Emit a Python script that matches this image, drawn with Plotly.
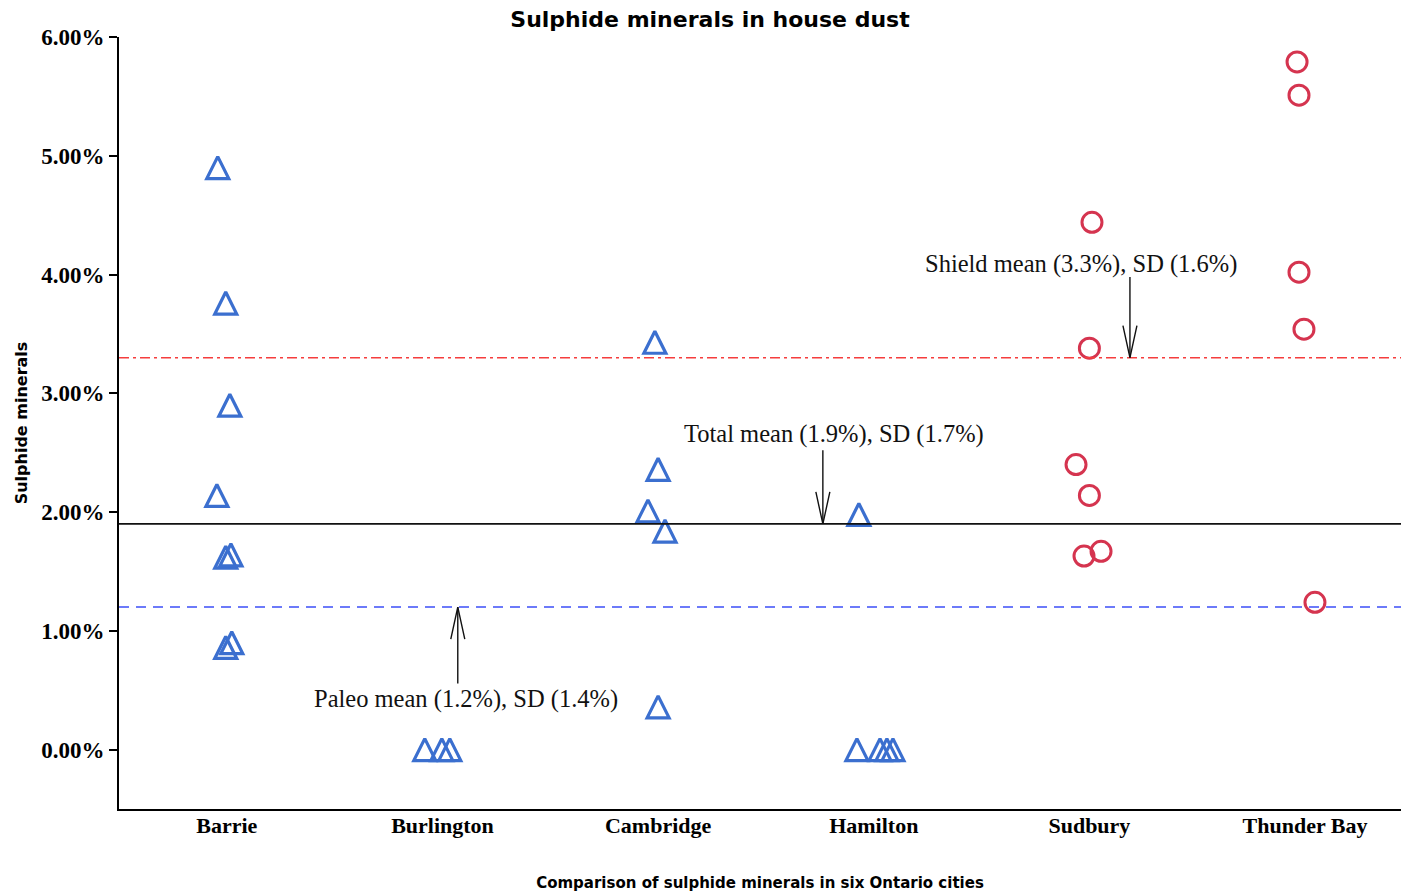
import plotly.graph_objects as go

# Six Ontario cities on the category axis
cities = ["Barrie", "Burlington", "Cambridge", "Hamilton", "Sudbury", "Thunder Bay"]

# Sulphide mineral content (%) of house dust samples, by city
barrie = [4.90, 3.76, 2.90, 2.14, 1.62, 1.64, 0.86, 0.90]
burlington = [0.0, 0.0, 0.0]
cambridge = [3.43, 2.36, 2.01, 1.84, 0.36]
hamilton = [1.98, 0.0, 0.0, 0.0, 0.0]
sudbury = [4.44, 3.38, 2.40, 2.14, 1.63, 1.67]
thunder_bay = [5.79, 5.51, 4.02, 3.54, 1.24]

# Horizontal jitter applied to each sample within its city column
barrie_jit = [-0.042, -0.005, 0.014, -0.046, -0.005, 0.019, -0.005, 0.023]
burlington_jit = [-0.082, -0.003, 0.034]
cambridge_jit = [-0.015, 0.0, -0.047, 0.032, 0.0]
hamilton_jit = [-0.069, -0.078, 0.029, 0.061, 0.089]
sudbury_jit = [0.012, 0.0, -0.062, 0.0, -0.025, 0.054]
thunder_bay_jit = [-0.037, -0.028, -0.028, -0.005, 0.046]

# Group summary statistics (%)
paleo_mean, paleo_sd = 1.2, 1.4
total_mean, total_sd = 1.9, 1.7
shield_mean, shield_sd = 3.3, 1.6

y_ticks = [0, 1, 2, 3, 4, 5, 6]
y_tick_text = [f"{v:.2f}%" for v in y_ticks]

BLUE = "#3b6fcf"
RED = "#d5344f"
SERIF = "Liberation Serif"
SANS = "DejaVu Sans"
TRI = 22  # triangle marker size (px)

fig = go.Figure()

paleo_groups = [(0, barrie, barrie_jit), (1, burlington, burlington_jit),
                (2, cambridge, cambridge_jit), (3, hamilton, hamilton_jit)]
shield_groups = [(4, sudbury, sudbury_jit), (5, thunder_bay, thunder_bay_jit)]

px_, py_ = [], []
for i, vals, jit in paleo_groups:
    px_ += [i + j for j in jit]
    py_ += vals
# equilateral-looking open triangle: an arrow glyph flipped upright and
# re-centred on the point with the marker standoff
fig.add_trace(go.Scatter(
    x=px_, y=py_, mode="markers", name="Paleozoic",
    marker=dict(symbol="arrow-down-open", size=TRI, angle=180, standoff=TRI / 2,
                color=BLUE, line=dict(width=3.2, color=BLUE)),
    showlegend=False, cliponaxis=False))

sx_, sy_ = [], []
for i, vals, jit in shield_groups:
    sx_ += [i + j for j in jit]
    sy_ += vals
fig.add_trace(go.Scatter(
    x=sx_, y=sy_, mode="markers", name="Shield",
    marker=dict(symbol="circle-open", size=20, color=RED,
                line=dict(width=3, color=RED)),
    showlegend=False, cliponaxis=False))

# Reference lines for the group means
fig.add_hline(y=shield_mean, line=dict(color="#f53d3d", width=1.6, dash="10px,4px,3px,4px"))
fig.add_hline(y=total_mean, line=dict(color="#111111", width=1.7))
fig.add_hline(y=paleo_mean, line=dict(color="#3d4ff7", width=1.5, dash="10px,7px"))

# Callouts: (label, text x, text y, arrow x, arrow tail y, arrow head y)
callouts = [
    (f"Shield mean ({shield_mean}%), SD ({shield_sd}%)", 3.963, 4.09, 4.188, 3.98, shield_mean),
    (f"Total mean ({total_mean}%), SD ({total_sd}%)", 2.815, 2.66, 2.764, 2.52, total_mean),
    (f"Paleo mean ({paleo_mean}%), SD ({paleo_sd}%)", 1.111, 0.43, 1.071, 0.556, paleo_mean),
]
for text, tx, ty, ax_, tail, head in callouts:
    fig.add_annotation(x=tx, y=ty, text=text, showarrow=False,
                       font=dict(family=SERIF, size=24.5, color="#111111"))
    fig.add_shape(type="line", x0=ax_, x1=ax_, y0=tail, y1=head,
                  line=dict(color="#111111", width=1.4))
    # open V arrowhead, sized in pixels at the arrow tip
    sign = 1 if tail > head else -1
    fig.add_shape(type="path", xsizemode="pixel", ysizemode="pixel",
                  xanchor=ax_, yanchor=head,
                  path=f"M-7,{32 * sign} L0,0 L7,{32 * sign}",
                  line=dict(color="#111111", width=1.4))

fig.update_layout(
    width=1401, height=895,
    margin=dict(l=119, r=0, t=37, b=86),
    plot_bgcolor="white", paper_bgcolor="white",
    title=dict(text="<b>Sulphide minerals in house dust</b>",
               x=710 / 1401, xref="container", xanchor="center",
               y=1 - 19 / 895, yref="container", yanchor="middle",
               font=dict(family=SANS, size=22, color="#000000")),
    showlegend=False,
)

fig.update_xaxes(
    range=[-0.5, 5.445], tickvals=list(range(len(cities))), ticktext=cities,
    showgrid=False, zeroline=False, showline=True, linecolor="black", linewidth=2,
    ticks="", ticklabelstandoff=-4,
    tickfont=dict(family=SERIF, size=22, color="black", weight="bold"),
    title=dict(text="<b>Comparison of sulphide minerals in six Ontario cities</b>",
               font=dict(family=SANS, size=15, color="black"), standoff=40),
)
fig.update_yaxes(
    range=[-0.5, 6], tickvals=y_ticks, ticktext=y_tick_text,
    showgrid=False, zeroline=False, showline=True, linecolor="black", linewidth=2,
    ticks="outside", ticklen=8, tickwidth=2, tickcolor="black",
    tickfont=dict(family=SERIF, size=23, color="black", weight="bold"),
    title=dict(text="<b>Sulphide minerals</b>", standoff=10,
               font=dict(family=SANS, size=16, color="black")),
)

fig.write_html("out.html")
